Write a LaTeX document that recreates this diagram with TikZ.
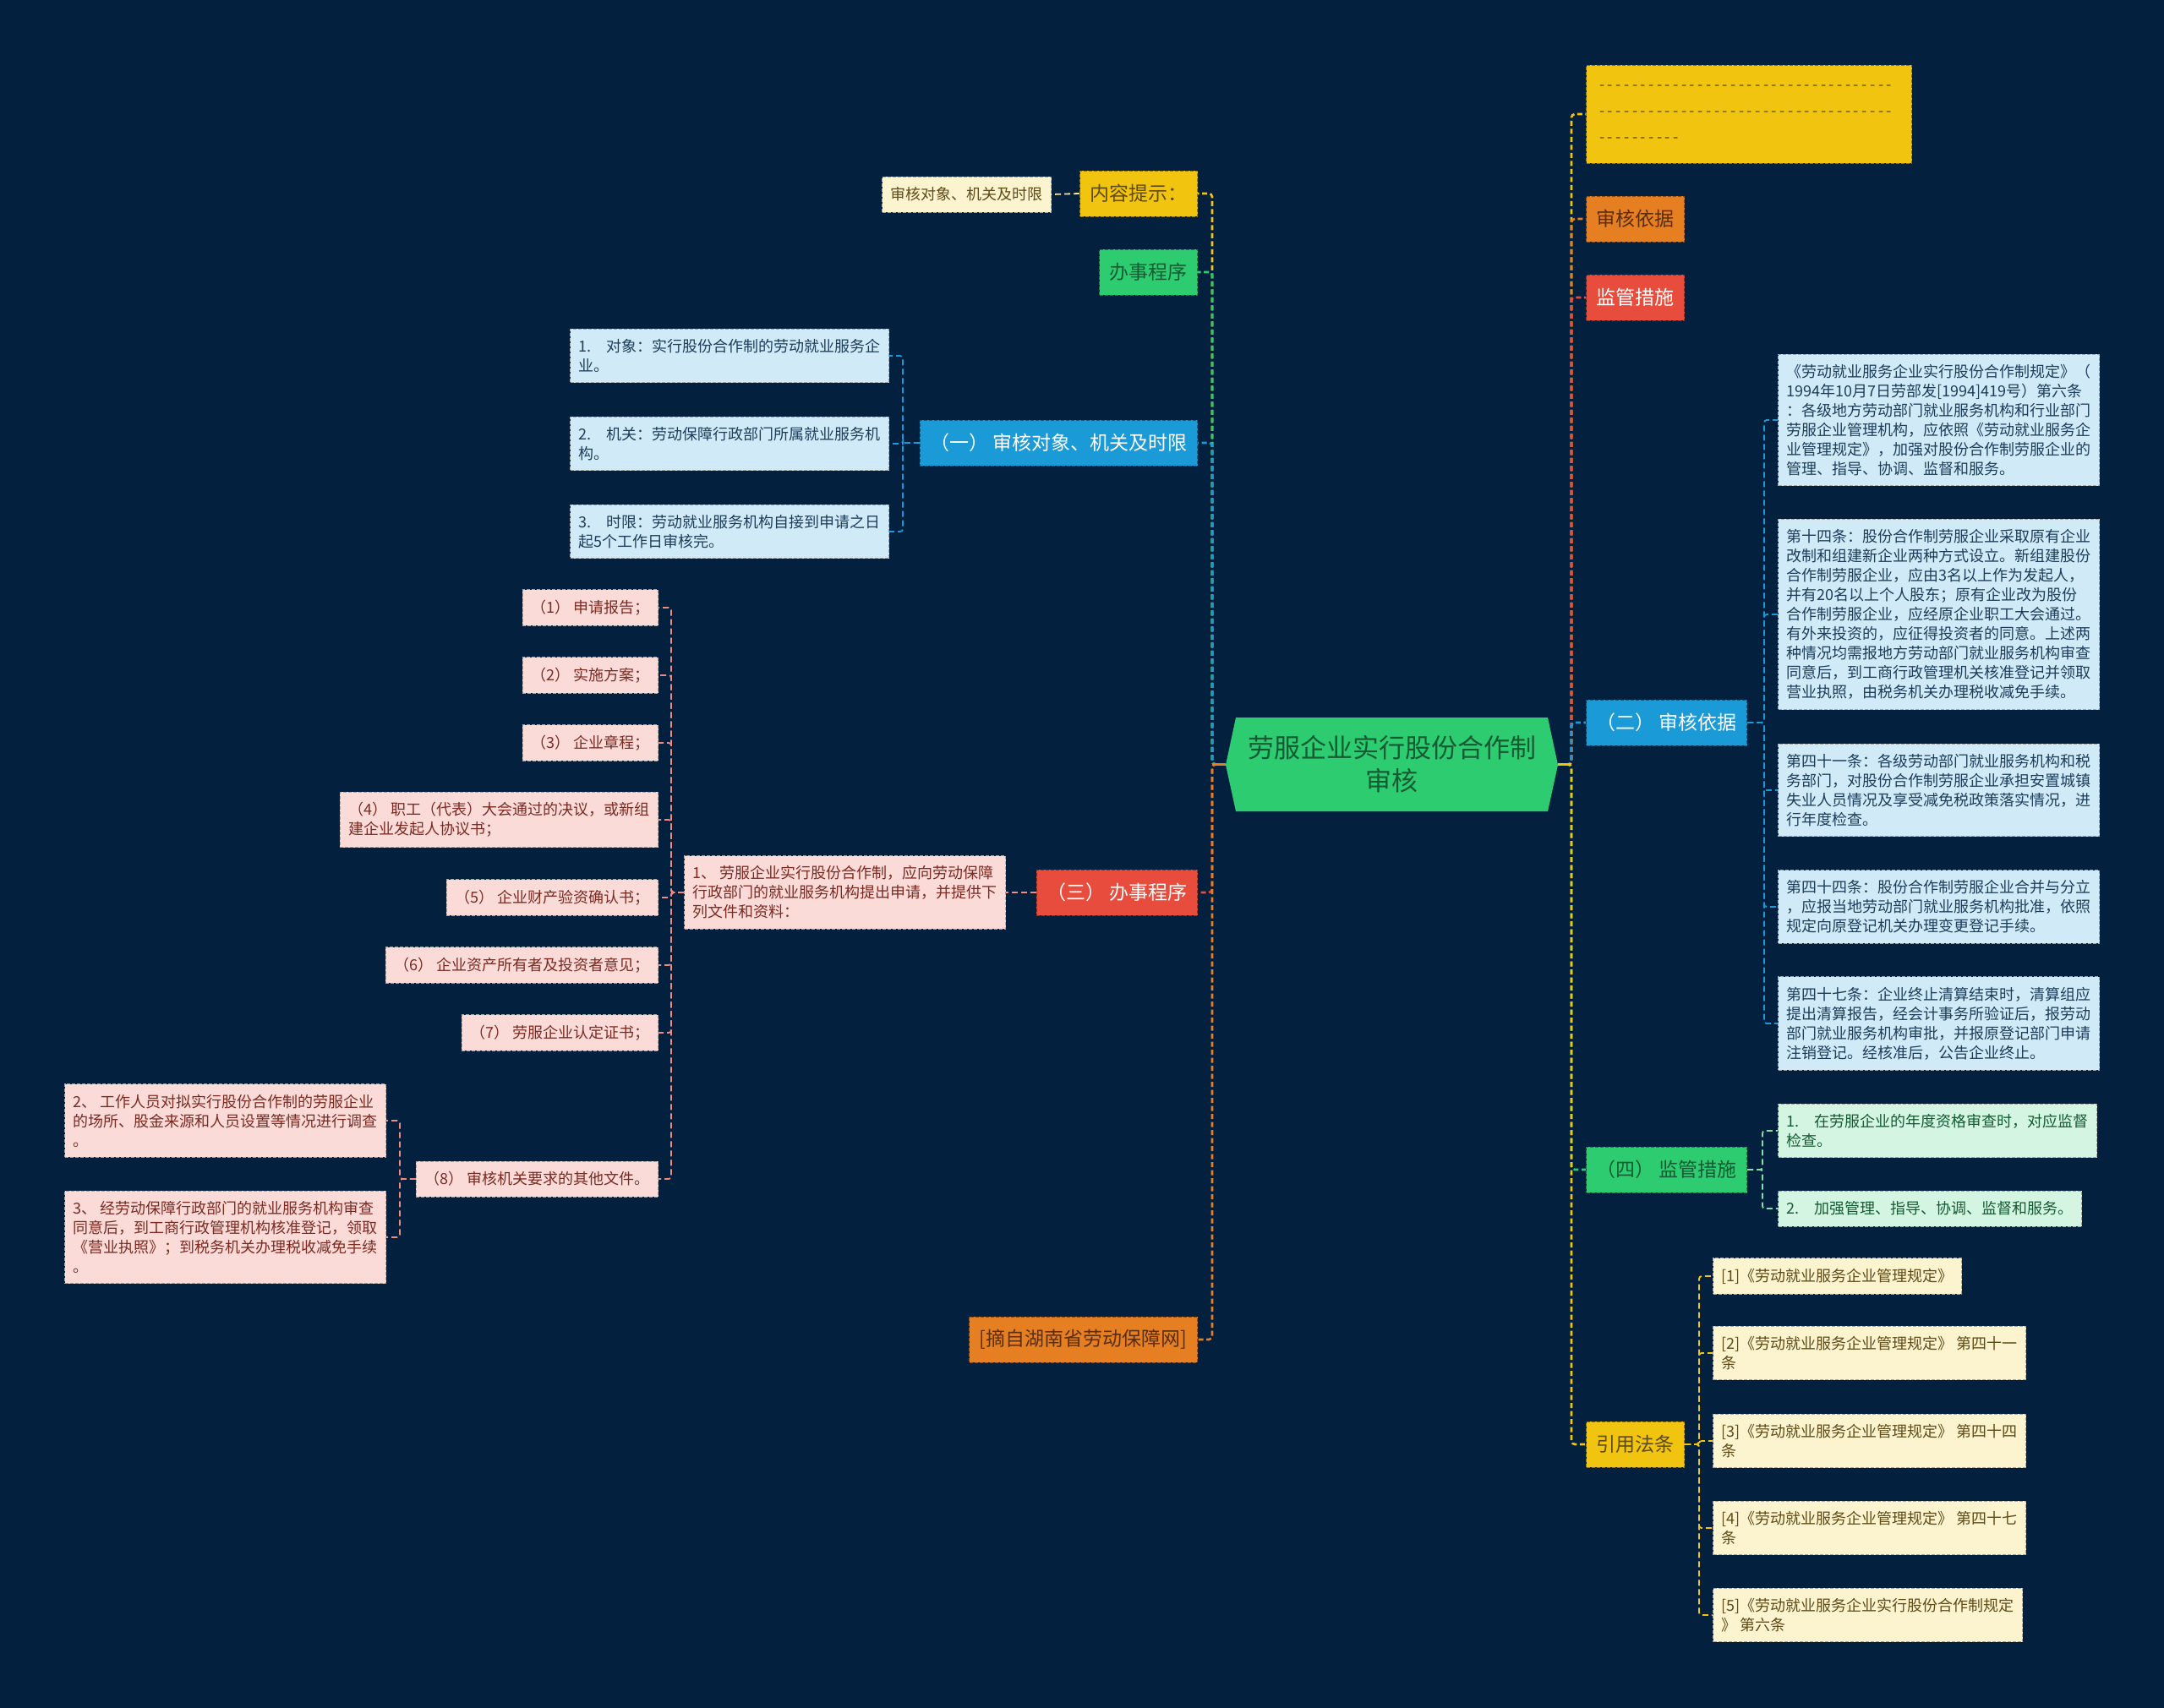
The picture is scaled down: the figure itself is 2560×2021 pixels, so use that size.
\documentclass[tikz,border=0pt]{standalone}
\usepackage{fontspec}
\setmainfont{Noto Sans CJK SC}

\definecolor{bgnavy}{HTML}{03203F}
\definecolor{cyel}{HTML}{F1C40F}
\definecolor{corg}{HTML}{E67E22}
\definecolor{cred}{HTML}{E74C3C}
\definecolor{cblu}{HTML}{1A9AD6}
\definecolor{cgrn}{HTML}{2ECC71}
\definecolor{lyel}{HTML}{FCF3CF}
\definecolor{lblu}{HTML}{D1EAF7}
\definecolor{lpnk}{HTML}{FADBD8}
\definecolor{lgrn}{HTML}{D5F5E3}
\definecolor{tyel}{HTML}{5E4B16}
\definecolor{tblu}{HTML}{1C3D5A}
\definecolor{tpnk}{HTML}{7B2A22}
\definecolor{tgrn}{HTML}{145A32}
\definecolor{tbrn}{HTML}{5A2E0E}

% one row of hyphens at a fixed pitch
\newcommand\dashrow[1]{\foreach \k in {1,...,#1}{\makebox[9.7pt]{-}}}

\begin{document}
\begin{tikzpicture}[x=1pt, y=-1pt,
	lvl/.style={rectangle, font=\fontsize{23}{28}\selectfont, inner xsep=12pt, inner ysep=6pt, minimum height=54pt, line width=1pt, dash pattern=on 4pt off 2pt},
	leaf/.style={rectangle, font=\fontsize{18}{23}\selectfont, align=left, inner xsep=10pt, inner ysep=12pt, minimum height=42pt, line width=1pt, dash pattern=on 4pt off 2pt, draw=black!35},
	yelbox/.style={lvl, fill=cyel, draw=cyel!60!black, text=tyel},
	orgbox/.style={lvl, fill=corg, draw=corg!60!black, text=tbrn},
	redbox/.style={lvl, fill=cred, draw=cred!60!black, text=white},
	blubox/.style={lvl, fill=cblu, draw=cblu!60!black, text=white},
	grnbox/.style={lvl, fill=cgrn, draw=cgrn!60!black, text=tgrn},
	yelleaf/.style={leaf, fill=lyel, text=tyel},
	bluleaf/.style={leaf, fill=lblu, text=tblu},
	pnkleaf/.style={leaf, fill=lpnk, text=tpnk},
	grnleaf/.style={leaf, fill=lgrn, text=tgrn},
	rootbox/.style={rectangle, font=\fontsize{31}{39}\selectfont, align=center, text=tgrn, minimum width=393pt, minimum height=111pt},
	link/.style={line width=2.6pt, dash pattern=on 6pt off 3.5pt, rounded corners=4pt},
	twig/.style={line width=1.8pt, dash pattern=on 7pt off 4pt, rounded corners=3pt}]

	% background
	\useasboundingbox (0,0) rectangle (2560,2021);
	\fill[bgnavy] (0,0) rectangle (2560,2021);

	% spines and brackets
	\coordinate (spL) at (1434,0);
	\coordinate (spR) at (1859,0);
	\coordinate (brA) at (1068,0);
	\coordinate (brC) at (794,0);
	\coordinate (brD) at (473,0);
	\coordinate (brB) at (2087,0);
	\coordinate (brE) at (2085,0);
	\coordinate (brF) at (2010,0);

	% root
	\fill[cgrn] (1450,905) -- (1462,849) -- (1831,849) -- (1843,905) -- (1831,960) -- (1462,960) -- cycle;
	\node[rootbox] (root) at (1646.5,904.5) {劳服企业实行股份合作制\\审核};

	% left branch
	\node[yelbox, anchor=east] (hint) at (1417,229) {内容提示：};
	\node[yelleaf, anchor=east] (tip) at (1244,230) {审核对象、机关及时限};
	\node[grnbox, anchor=east] (proc) at (1417,322) {办事程序};
	\node[blubox, anchor=east] (one) at (1417,524) {（一） 审核对象、机关及时限};
	\node[redbox, anchor=east] (three) at (1417,1056) {（三） 办事程序};
	\node[orgbox, anchor=east] (src) at (1417,1585) {[摘自湖南省劳动保障网]};

	% (one) items
	\node[bluleaf, anchor=east] (one1) at (1052,421) {1.\quad 对象：实行股份合作制的劳动就业服务企\\业。};
	\node[bluleaf, anchor=east] (one2) at (1052,525) {2.\quad 机关：劳动保障行政部门所属就业服务机\\构。};
	\node[bluleaf, anchor=east] (one3) at (1052,629) {3.\quad 时限：劳动就业服务机构自接到申请之日\\起5个工作日审核完。};

	% (three) items
	\node[pnkleaf, anchor=east] (three1) at (1190,1056) {1、 劳服企业实行股份合作制，应向劳动保障\\行政部门的就业服务机构提出申请，并提供下\\列文件和资料：};
	\node[pnkleaf, anchor=east] (p1) at (779,719) {（1） 申请报告；};
	\node[pnkleaf, anchor=east] (p2) at (779,799) {（2） 实施方案；};
	\node[pnkleaf, anchor=east] (p3) at (779,879) {（3） 企业章程；};
	\node[pnkleaf, anchor=east] (p4) at (779,970) {（4） 职工（代表）大会通过的决议，或新组\\建企业发起人协议书；};
	\node[pnkleaf, anchor=east] (p5) at (779,1062) {（5） 企业财产验资确认书；};
	\node[pnkleaf, anchor=east] (p6) at (779,1142) {（6） 企业资产所有者及投资者意见；};
	\node[pnkleaf, anchor=east] (p7) at (779,1222) {（7） 劳服企业认定证书；};
	\node[pnkleaf, anchor=east] (p8) at (779,1395) {（8） 审核机关要求的其他文件。};
	\node[pnkleaf, anchor=east] (q2) at (457,1326) {2、 工作人员对拟实行股份合作制的劳服企业\\的场所、股金来源和人员设置等情况进行调查\\。};
	\node[pnkleaf, anchor=east] (q3) at (457,1464) {3、 经劳动保障行政部门的就业服务机构审查\\同意后，到工商行政管理机构核准登记，领取\\《营业执照》；到税务机关办理税收减免手续\\。};

	% right branch
	\node[yelbox, anchor=west, font=\fontsize{18}{31}\selectfont, align=left, text width=357pt, inner xsep=14pt, minimum height=116pt] (dash) at (1876,135) {\dashrow{36}\\\dashrow{36}\\\dashrow{10}};
	\node[orgbox, anchor=west] (basis) at (1876,259) {审核依据};
	\node[redbox, anchor=west] (measure) at (1876,352) {监管措施};
	\node[blubox, anchor=west] (two) at (1876,855) {（二） 审核依据};
	\node[grnbox, anchor=west] (four) at (1876,1384) {（四） 监管措施};
	\node[yelbox, anchor=west] (law) at (1876,1709) {引用法条};

	% (two) items
	\node[bluleaf, anchor=west] (two1) at (2103,497) {《劳动就业服务企业实行股份合作制规定》（\\1994年10月7日劳部发[1994]419号）第六条\\：各级地方劳动部门就业服务机构和行业部门\\劳服企业管理机构，应依照《劳动就业服务企\\业管理规定》，加强对股份合作制劳服企业的\\管理、指导、协调、监督和服务。};
	\node[bluleaf, anchor=west] (two2) at (2103,727) {第十四条：股份合作制劳服企业采取原有企业\\改制和组建新企业两种方式设立。新组建股份\\合作制劳服企业，应由3名以上作为发起人，\\并有20名以上个人股东；原有企业改为股份\\合作制劳服企业，应经原企业职工大会通过。\\有外来投资的，应征得投资者的同意。上述两\\种情况均需报地方劳动部门就业服务机构审查\\同意后，到工商行政管理机关核准登记并领取\\营业执照，由税务机关办理税收减免手续。};
	\node[bluleaf, anchor=west] (two3) at (2103,935) {第四十一条：各级劳动部门就业服务机构和税\\务部门，对股份合作制劳服企业承担安置城镇\\失业人员情况及享受减免税政策落实情况，进\\行年度检查。};
	\node[bluleaf, anchor=west] (two4) at (2103,1073) {第四十四条：股份合作制劳服企业合并与分立\\，应报当地劳动部门就业服务机构批准，依照\\规定向原登记机关办理变更登记手续。};
	\node[bluleaf, anchor=west] (two5) at (2103,1211) {第四十七条：企业终止清算结束时，清算组应\\提出清算报告，经会计事务所验证后，报劳动\\部门就业服务机构审批，并报原登记部门申请\\注销登记。经核准后，公告企业终止。};

	% (four) items
	\node[grnleaf, anchor=west] (four1) at (2103,1338) {1.\quad 在劳服企业的年度资格审查时，对应监督\\检查。};
	\node[grnleaf, anchor=west] (four2) at (2103,1430) {2.\quad 加强管理、指导、协调、监督和服务。};

	% cited laws
	\node[yelleaf, anchor=west] (law1) at (2026,1510) {[1]《劳动就业服务企业管理规定》};
	\node[yelleaf, anchor=west] (law2) at (2026,1601) {[2]《劳动就业服务企业管理规定》 第四十一\\条};
	\node[yelleaf, anchor=west] (law3) at (2026,1705) {[3]《劳动就业服务企业管理规定》 第四十四\\条};
	\node[yelleaf, anchor=west] (law4) at (2026,1808) {[4]《劳动就业服务企业管理规定》 第四十七\\条};
	\node[yelleaf, anchor=west] (law5) at (2026,1911) {[5]《劳动就业服务企业实行股份合作制规定\\》 第六条};

	% main links, left
	\draw[link, cyel] (root.west) -- (root.west -| spL) |- (hint.east);
	\draw[link, cgrn] (root.west) -- (root.west -| spL) |- (proc.east);
	\draw[link, cblu] (root.west) -- (root.west -| spL) |- (one.east);
	\draw[link, cred] (root.west) -- (root.west -| spL) |- (three.east);
	\draw[link, corg] (root.west) -- (root.west -| spL) |- (src.east);
	\draw[line width=2.6pt, corg] (root.west) -- (root.west -| spL);

	% main links, right
	\draw[link, cyel] (root.east) -- (root.east -| spR) |- (dash.west);
	\draw[link, corg] (root.east) -- (root.east -| spR) |- (basis.west);
	\draw[link, cred] (root.east) -- (root.east -| spR) |- (measure.west);
	\draw[link, cblu] (root.east) -- (root.east -| spR) |- (two.west);
	\draw[link, cgrn] (root.east) -- (root.east -| spR) |- (four.west);
	\draw[link, cyel] (root.east) -- (root.east -| spR) |- (law.west);
	\draw[line width=2.6pt, cyel] (root.east) -- (root.east -| spR);

	% sub links, left
	\draw[twig, cyel!45!white] (hint.west) -- (tip.east);
	\draw[twig, cblu] (one.west) -- (one.west -| brA) |- (one1.east);
	\draw[twig, cblu] (one.west) -- (one.west -| brA) |- (one2.east);
	\draw[twig, cblu] (one.west) -- (one.west -| brA) |- (one3.east);
	\draw[twig, cred!65!white] (three.west) -- (three1.east);
	\draw[twig, cred!65!white] (three1.west) -- (three1.west -| brC) |- (p1.east);
	\draw[twig, cred!65!white] (three1.west) -- (three1.west -| brC) |- (p2.east);
	\draw[twig, cred!65!white] (three1.west) -- (three1.west -| brC) |- (p3.east);
	\draw[twig, cred!65!white] (three1.west) -- (three1.west -| brC) |- (p4.east);
	\draw[twig, cred!65!white] (three1.west) -- (three1.west -| brC) |- (p5.east);
	\draw[twig, cred!65!white] (three1.west) -- (three1.west -| brC) |- (p6.east);
	\draw[twig, cred!65!white] (three1.west) -- (three1.west -| brC) |- (p7.east);
	\draw[twig, cred!65!white] (three1.west) -- (three1.west -| brC) |- (p8.east);
	\draw[twig, cred!65!white] (p8.west) -- (p8.west -| brD) |- (q2.east);
	\draw[twig, cred!65!white] (p8.west) -- (p8.west -| brD) |- (q3.east);

	% sub links, right
	\draw[twig, cblu] (two.east) -- (two.east -| brB) |- (two1.west);
	\draw[twig, cblu] (two.east) -- (two.east -| brB) |- (two2.west);
	\draw[twig, cblu] (two.east) -- (two.east -| brB) |- (two3.west);
	\draw[twig, cblu] (two.east) -- (two.east -| brB) |- (two4.west);
	\draw[twig, cblu] (two.east) -- (two.east -| brB) |- (two5.west);
	\draw[twig, cgrn!60!white] (four.east) -- (four.east -| brE) |- (four1.west);
	\draw[twig, cgrn!60!white] (four.east) -- (four.east -| brE) |- (four2.west);
	\draw[twig, cyel] (law.east) -- (law.east -| brF) |- (law1.west);
	\draw[twig, cyel] (law.east) -- (law.east -| brF) |- (law2.west);
	\draw[twig, cyel] (law.east) -- (law.east -| brF) |- (law3.west);
	\draw[twig, cyel] (law.east) -- (law.east -| brF) |- (law4.west);
	\draw[twig, cyel] (law.east) -- (law.east -| brF) |- (law5.west);

\end{tikzpicture}
\end{document}
